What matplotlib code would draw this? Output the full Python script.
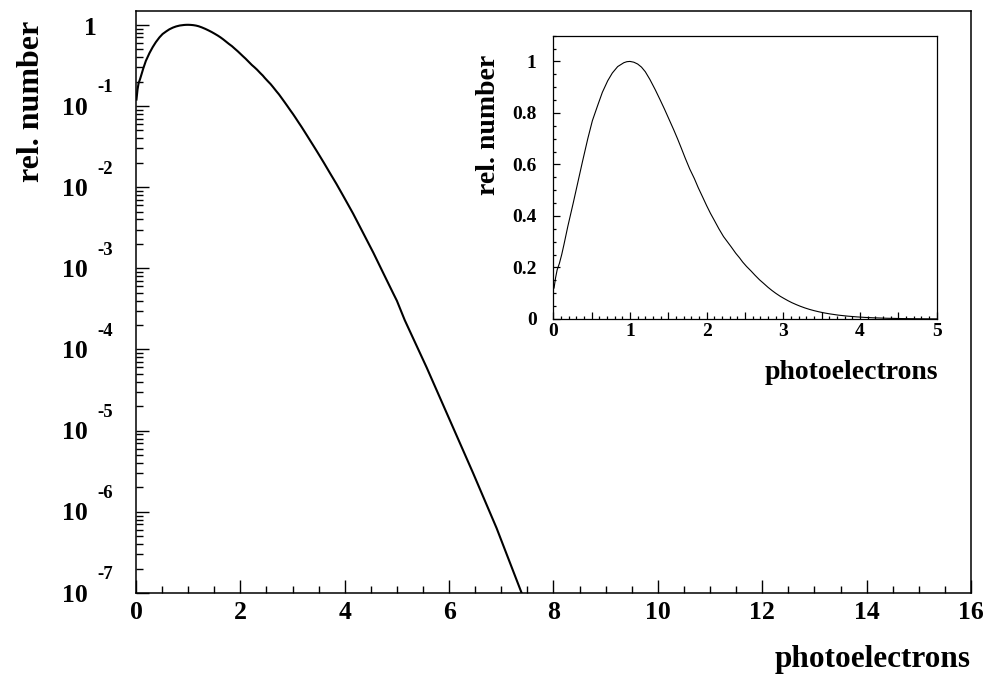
import matplotlib
matplotlib.use("Agg")
import matplotlib.pyplot as plt
import matplotlib.ticker as ticker
import matplotlib.transforms as transforms

# datos
pe = [0.01, 0.03, 0.05, 0.08, 0.11, 0.14, 0.19, 0.26, 0.32, 0.38, 0.45, 0.51,
      0.58, 0.64, 0.71, 0.77, 0.84, 0.92, 0.96, 1.0, 1.05, 1.1, 1.15, 1.2,
      1.26, 1.33, 1.39, 1.45, 1.51, 1.57, 1.62, 1.67, 1.72, 1.78, 1.84, 1.89,
      1.95, 2.0, 2.05, 2.1, 2.16, 2.22, 2.27, 2.32, 2.38, 2.43, 2.47, 2.52,
      2.58, 2.63, 2.69, 2.74, 2.8, 2.85, 2.9, 2.96, 3.01, 3.06, 3.11, 3.17,
      3.22, 3.28, 3.34, 3.40, 3.46, 3.52, 3.6, 3.72, 3.84, 3.96, 4.06, 4.16,
      4.35, 4.55, 4.74, 4.93, 5.0, 5.15, 5.57, 6.02, 6.46, 6.91, 7.39, 7.5]
rel = [0.12, 0.16, 0.19, 0.216, 0.25, 0.29, 0.36, 0.45, 0.53, 0.61, 0.70, 0.77,
       0.83, 0.88, 0.925, 0.955, 0.98, 0.995, 0.999, 1.0, 0.997, 0.99, 0.978, 0.96,
       0.93, 0.89, 0.853, 0.815, 0.775, 0.735, 0.70, 0.663, 0.625, 0.582, 0.545, 0.51,
       0.472, 0.44, 0.41, 0.383, 0.35, 0.32, 0.30, 0.28, 0.255, 0.237, 0.221, 0.204,
       0.186, 0.17, 0.152, 0.139, 0.123, 0.111, 0.100, 0.088, 0.0794, 0.0711, 0.0635, 0.0556,
       0.0495, 0.043, 0.0373, 0.0324, 0.0281, 0.0243, 0.020, 0.0148, 0.011, 8.04e-3, 6.17e-3, 4.73e-3,
       2.75e-3, 1.55e-3, 8.7e-4, 4.9e-4, 3.98e-4, 2.3e-4, 6.0e-5, 1.32e-5, 3.0e-6, 6.3e-7, 1.0e-7, 7e-8]

decadas = [1e0, 1e-1, 1e-2, 1e-3, 1e-4, 1e-5, 1e-6, 1e-7]
exponentes = ["", "-1", "-2", "-3", "-4", "-5", "-6", "-7"]
inset_yticks = [0, 0.2, 0.4, 0.6, 0.8, 1]

plt.rcParams['font.family'] = ['Liberation Serif', 'DejaVu Serif']
plt.rcParams['font.weight'] = 'bold'

fig = plt.figure(figsize=(9.91, 6.82), dpi=100)

# grafica principal (log)
ax = fig.add_axes([0.1372, 0.1305, 0.8426, 0.8534])
ax.plot(pe, rel, color='black', lw=1.5)
ax.set_yscale('log')
ax.set_xlim(0, 16)
ax.set_ylim(1e-7, 1.48)
for s in ax.spines.values():
    s.set_linewidth(1.1)

ax.xaxis.set_major_locator(ticker.MultipleLocator(2))
ax.xaxis.set_minor_locator(ticker.MultipleLocator(0.5))
ax.yaxis.set_major_locator(ticker.LogLocator(base=10, numticks=20))
ax.yaxis.set_minor_locator(ticker.LogLocator(base=10, subs=range(2, 10), numticks=20))
ax.yaxis.set_major_formatter(ticker.NullFormatter())
ax.yaxis.set_minor_formatter(ticker.NullFormatter())
ax.tick_params(which='both', direction='in', top=False, right=False, width=1.0)
ax.tick_params(which='major', length=9.5)
ax.tick_params(which='minor', length=4.7)
ax.tick_params(axis='x', which='major', labelsize=18.5, pad=6)

# etiquetas estilo ROOT: 10 con exponente arriba
trans = transforms.blended_transform_factory(ax.transAxes, ax.transData)
for d, e in zip(decadas, exponentes):
    if e == "":
        ax.annotate("1", xy=(0, d), xycoords=trans, xytext=(-28, -3),
                    textcoords='offset points', ha='right', va='center',
                    fontsize=18.5, fontweight='bold')
    else:
        ax.annotate("10", xy=(0, d), xycoords=trans, xytext=(-35, -1.5),
                    textcoords='offset points', ha='right', va='center',
                    fontsize=18.5, fontweight='bold')
        ax.annotate(e, xy=(0, d), xycoords=trans, xytext=(-27.5, 13),
                    textcoords='offset points', ha='left', va='center',
                    fontsize=13.5, fontweight='bold')

ax.set_xlabel("photoelectrons", fontsize=22.5, fontweight='bold', loc='right')
ax.xaxis.set_label_coords(1.0, -0.089)
ax.set_ylabel("rel. number", fontsize=23, fontweight='bold', loc='top')
ax.yaxis.set_label_coords(-0.108, 0.983)

# grafica insertada (lineal)
ins = fig.add_axes([0.5583, 0.5323, 0.3869, 0.4154])
ins.plot(pe, rel, color='black', lw=0.8)
ins.set_xlim(0, 5)
ins.set_ylim(0, 1.1)
for s in ins.spines.values():
    s.set_linewidth(0.9)
ins.xaxis.set_major_locator(ticker.MultipleLocator(0.5))
ins.xaxis.set_minor_locator(ticker.MultipleLocator(0.1))
ins.xaxis.set_major_formatter(ticker.FuncFormatter(lambda v, p: "%d" % v if abs(v - round(v)) < 1e-6 else ""))
ins.yaxis.set_major_locator(ticker.FixedLocator(inset_yticks))
ins.yaxis.set_minor_locator(ticker.MultipleLocator(0.05))
ins.yaxis.set_major_formatter(ticker.FuncFormatter(lambda v, p: "%g" % v))
ins.tick_params(which='both', direction='in', top=False, right=False, width=0.9)
ins.tick_params(which='major', length=5)
ins.tick_params(which='minor', length=2.5)
ins.tick_params(axis='x', which='major', labelsize=14, pad=3)
ins.tick_params(axis='y', which='major', labelsize=14, pad=12)
ins.set_xlabel("photoelectrons", fontsize=20, fontweight='bold', loc='right')
ins.xaxis.set_label_coords(1.003, -0.145)
ins.set_ylabel("rel. number", fontsize=20, fontweight='bold', loc='top')
ins.yaxis.set_label_coords(-0.137, 0.932)

plt.savefig("out.png", dpi=100)
